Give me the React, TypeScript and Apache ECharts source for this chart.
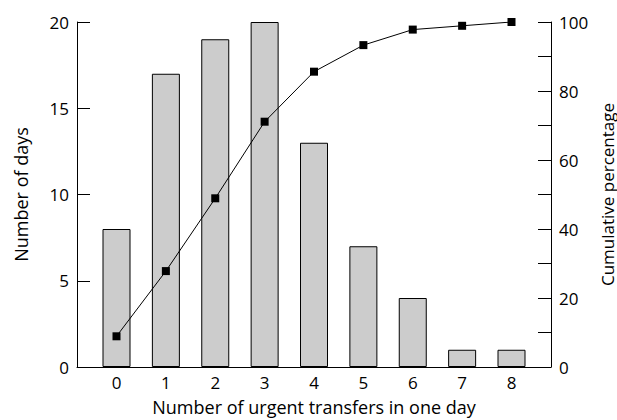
import React, { useEffect, useRef } from "react";
import * as echarts from "echarts";

const categories = [0, 1, 2, 3, 4, 5, 6, 7, 8];
const days = [8, 17, 19, 20, 13, 7, 4, 1, 1];
const cumulative = [8.9, 27.8, 48.9, 71.1, 85.6, 93.3, 97.8, 98.9, 100];

const FONT = "Open Sans";

export default function App() {
  const ref = useRef<HTMLDivElement>(null);
  useEffect(() => {
    if (!ref.current) return;
    const chart = echarts.init(ref.current, null, { renderer: "svg" });
    const lab = { color: "#000", fontFamily: FONT, fontSize: 17 };
    chart.setOption({
      animation: false,
      backgroundColor: "#fff",
      grid: { left: 77, right: 66, top: 22, bottom: 53, containLabel: false, outerBoundsMode: "none" },
      xAxis: {
        type: "value",
        min: -0.8,
        max: 8.8,
        splitLine: { show: false },
        axisTick: { show: false },
        axisLine: { onZero: false, lineStyle: { color: "#000", width: 1 } },
        axisLabel: { ...lab, customValues: categories, margin: 7 },
        name: "Number of urgent transfers in one day",
        nameLocation: "middle",
        nameGap: 31,
        nameTextStyle: { ...lab, fontSize: 18 },
      },
      yAxis: [
        {
          type: "value",
          min: 0,
          max: 20,
          interval: 5,
          position: "left",
          splitLine: { show: false },
          axisLine: { show: true, onZero: false, lineStyle: { color: "#000", width: 1 } },
          axisTick: { show: true, inside: true, length: 13, lineStyle: { color: "#000" } },
          axisLabel: { ...lab, margin: 8 },
          name: "Number of days",
          nameLocation: "middle",
          nameGap: 47,
          nameRotate: 90,
          nameTextStyle: { ...lab, fontSize: 18 },
        },
        {
          type: "value",
          min: 0,
          max: 100,
          interval: 10,
          position: "right",
          splitLine: { show: false },
          axisLine: { show: true, onZero: false, lineStyle: { color: "#000", width: 1 } },
          axisTick: { show: true, inside: true, length: 13, lineStyle: { color: "#000" } },
          axisLabel: {
            ...lab,
            margin: 8,
            formatter: (v: number) => (v % 20 === 0 ? String(v) : ""),
          },
          name: "Cumulative percentage",
          nameLocation: "middle",
          nameGap: 34,
          nameRotate: 90,
          nameTextStyle: { ...lab, fontSize: 17 },
        },
      ],
      series: [
        {
          type: "bar",
          xAxisIndex: 0,
          yAxisIndex: 0,
          barWidth: 28,
          data: categories.map((c, i) => [c, days[i]]),
          itemStyle: { color: "#cccccc", borderColor: "#000", borderWidth: 1 },
        },
        {
          type: "line",
          xAxisIndex: 0,
          yAxisIndex: 1,
          data: categories.map((c, i) => [c, cumulative[i]]),
          symbol: "rect",
          symbolSize: 8,
          lineStyle: { color: "#000", width: 1 },
          itemStyle: { color: "#000" },
        },
      ],
    });
    return () => chart.dispose();
  }, []);
  return (
    <div
      ref={ref}
      style={{ position: "fixed", left: 0, top: 0, width: 617, height: 420 }}
    />
  );
}
